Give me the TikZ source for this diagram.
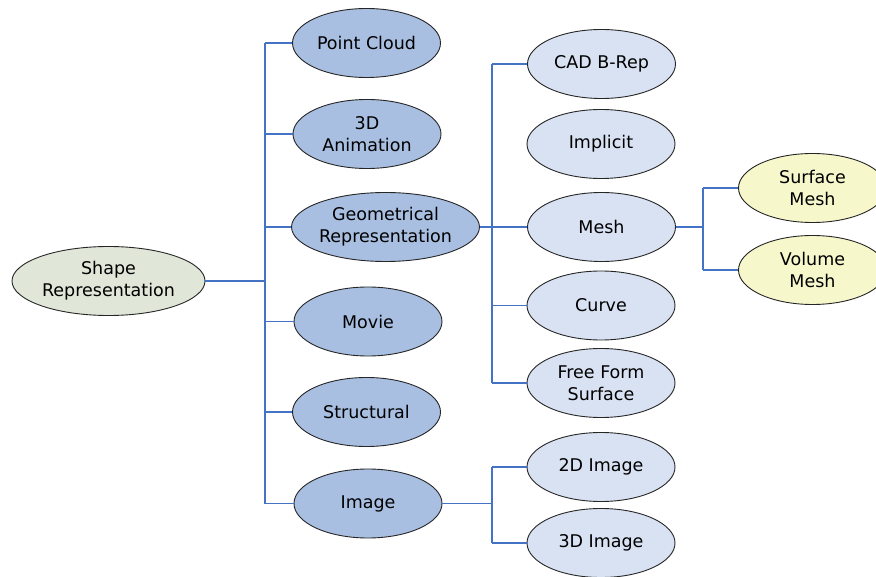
\documentclass[tikz,border=0pt]{standalone}
\usepackage{fontspec}
\setmainfont{DejaVu Sans}
\usetikzlibrary{shapes.geometric}
\definecolor{linkblue}{HTML}{4472C4}
\definecolor{rootfill}{HTML}{E0E7D8}
\definecolor{lvlonefill}{HTML}{A8BFE1}
\definecolor{lvltwofill}{HTML}{D9E2F2}
\definecolor{lvlthreefill}{HTML}{F7F7CC}
\tikzset{
  blob/.style={ellipse, draw=black!85, line width=0.9pt, inner sep=0pt,
    minimum width=148pt, minimum height=69pt, align=center,
    font=\fontsize{17.5}{22}\selectfont},
  rootblob/.style={blob, fill=rootfill, minimum width=193pt},
  oneblob/.style={blob, fill=lvlonefill},
  twoblob/.style={blob, fill=lvltwofill},
  threeblob/.style={blob, fill=lvlthreefill},
  link/.style={draw=linkblue, line width=1.3pt}
}
\begin{document}
\begin{tikzpicture}[x=1pt, y=-1pt]
\useasboundingbox (0,0) rectangle (876,577);
\clip (0,0) rectangle (876,577);
\fill[white] (0,0) rectangle (876,577);

% nodes
\node[rootblob] (shape) at (108.5,281) {Shape\\Representation};

\node[oneblob] (pc)   at (366.5,43)  {Point Cloud};
\node[oneblob] (anim) at (367,134)   {3D\\Animation};
\node[oneblob, minimum width=183pt] (geo) at (385.5,227) {Geometrical\\Representation};
\node[oneblob] (mov)  at (368,321.5) {Movie};
\node[oneblob] (str)  at (366.5,412) {Structural};
\node[oneblob] (img)  at (368,503.5) {Image};

\node[twoblob] (cad)  at (601.5,64)  {CAD B-Rep};
\node[twoblob] (imp)  at (601,144)   {Implicit};
\node[twoblob] (mesh) at (601.5,227) {Mesh};
\node[twoblob] (crv)  at (601,305.5) {Curve};
\node[twoblob] (ff)   at (601,383)   {Free Form\\Surface};
\node[twoblob] (twod) at (601,467)   {2D Image};
\node[twoblob] (thrd) at (601,543)   {3D Image};

\node[threeblob] (sm) at (812.5,188) {Surface\\Mesh};
\node[threeblob] (vm) at (812.5,270) {Volume\\Mesh};

% bus lines
\coordinate (busa) at (265,0);
\coordinate (busb) at (492,0);
\coordinate (busc) at (703,0);

% root to first level
\draw[link] (shape.east) -- (shape.east -| busa);
\draw[link] (busa |- pc.west) -- (busa |- img.west);
\foreach \n in {pc,anim,geo,mov,str,img}
  \draw[link] (busa |- \n.west) -- (\n.west);

% geometrical representation branch
\draw[link] (geo.east) -- (geo.east -| busb);
\draw[link] (busb |- cad.west) -- (busb |- ff.west);
\foreach \n in {cad,mesh,crv,ff}
  \draw[link] (busb |- \n.west) -- (\n.west);

% image branch
\draw[link] (img.east) -- (img.east -| busb);
\draw[link] (busb |- twod.west) -- (busb |- thrd.west);
\foreach \n in {twod,thrd}
  \draw[link] (busb |- \n.west) -- (\n.west);

% mesh branch
\draw[link] (mesh.east) -- (mesh.east -| busc);
\draw[link] (busc |- sm.west) -- (busc |- vm.west);
\foreach \n in {sm,vm}
  \draw[link] (busc |- \n.west) -- (\n.west);
\end{tikzpicture}
\end{document}
